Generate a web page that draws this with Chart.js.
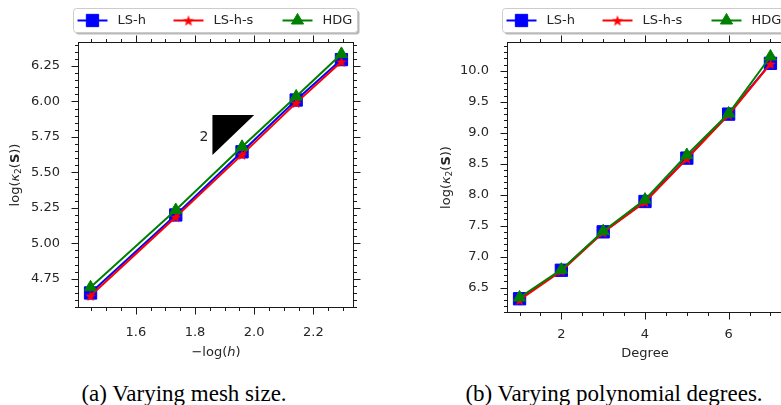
<!DOCTYPE html>
<html>
<head>
<meta charset="utf-8">
<script src="https://cdn.jsdelivr.net/npm/chart.js@4.4.1/dist/chart.umd.min.js"></script>
<style>
  html, body { margin: 0; padding: 0; background: #fff; overflow: hidden; }
  #fig { width: 781px; height: 405px; overflow: hidden; position: relative; }
  canvas { position: absolute; top: 0; }
  #meshChart { left: 0; }
  #degChart { left: 390px; }
  .caption { position: absolute; top: 382px; font-family: "Liberation Serif", serif; font-size: 23px;
             line-height: 23px; text-align: center; color: #000; white-space: nowrap; }
</style>
</head>
<body>
<div id="fig">
<canvas id="meshChart" width="390" height="370"></canvas>
<canvas id="degChart" width="400" height="370"></canvas>
<div class="caption" style="left:0;width:368px">(a) Varying mesh size.</div>
<div class="caption" style="left:414px;width:400px">(b) Varying polynomial degrees.</div>
</div>
<script>
//      (a) varying mesh size
const meshX    = [1.447, 1.735, 1.959, 2.142, 2.295];
const meshLSh  = [4.65, 5.20, 5.645, 6.01, 6.295];
const meshLShs = [4.63, 5.185, 5.625, 5.99, 6.28];
const meshHDG  = [4.69, 5.235, 5.68, 6.035, 6.335];
const meshXTicks  = [1.6, 1.8, 2.0, 2.2];
const meshXLabels = ['1.6', '1.8', '2.0', '2.2'];
const meshYTicks  = [4.75, 5.00, 5.25, 5.50, 5.75, 6.00, 6.25];
const meshYLabels = ['4.75', '5.00', '5.25', '5.50', '5.75', '6.00', '6.25'];
// slope triangle (data coords) and its label
const slopeTriX = [1.859, 1.859, 2.0];
const slopeTriY = [5.623, 5.905, 5.905];
const slopeText = '2';
const slopeTextAt = [1.8305, 5.75];

//      (b) varying polynomial degree
const degX    = [1, 2, 3, 4, 5, 6, 7];
const degLSh  = [6.32, 6.78, 7.40, 7.89, 8.59, 9.30, 10.12];
const degLShs = [6.30, 6.77, 7.39, 7.88, 8.58, 9.29, 10.11];
const degHDG  = [6.34, 6.79, 7.41, 7.92, 8.64, 9.31, 10.23];
const degXTicks  = [2, 4, 6];
const degXLabels = ['2', '4', '6'];
const degYTicks  = [6.5, 7.0, 7.5, 8.0, 8.5, 9.0, 9.5, 10.0];
const degYLabels = ['6.5', '7.0', '7.5', '8.0', '8.5', '9.0', '9.5', '10.0'];

const seriesNames = ['LS-h', 'LS-h-s', 'HDG'];

// filled 5 point star, like matplotlib '*'
function starMarker(color, r) {
    const c = document.createElement('canvas');
    const s = Math.ceil(r * 2) + 2;
    c.width = s; c.height = s;
    const g = c.getContext('2d');
    g.fillStyle = color;
    g.beginPath();
    for (let i = 0; i < 10; i++) {
        const rr = i % 2 ? r * 0.42 : r;
        const a = -Math.PI / 2 + i * Math.PI / 5;
        g.lineTo(s / 2 + rr * Math.cos(a), s / 2 + 0.6 + rr * Math.sin(a));
    }
    g.closePath();
    g.fill();
    return c;
}

const seriesStyle = [
    { color: '#0000ff', pointStyle: 'rect', radius: 8.7, order: 3 },
    { color: '#ff0000', pointStyle: starMarker('#ff0000', 5.8), radius: 6, order: 2 },
    { color: '#008000', pointStyle: 'triangle', radius: 7, order: 1 }
];

const TICK_FONT = { family: 'DejaVu Sans', size: 13 };
const TEXT_COL = '#262626';

function lineSets(xs, series) {
    return series.map((ys, i) => {
        const st = seriesStyle[i];
        return {
            label: seriesNames[i],
            data: xs.map((x, j) => ({ x: x, y: ys[j] })),
            borderColor: st.color, backgroundColor: st.color, borderWidth: 2,
            pointStyle: st.pointStyle, pointRadius: st.radius,
            pointBorderWidth: 1, pointBorderColor: st.color, pointBackgroundColor: st.color,
            order: st.order, tension: 0, fill: false, clip: false
        };
    });
}

//      draw a row of text pieces with different fonts (for math-ish titles)
function drawRich(ctx, parts, cx, cy, rotate) {
    ctx.save();
    ctx.translate(cx, cy);
    if (rotate) ctx.rotate(-Math.PI / 2);
    ctx.textBaseline = 'alphabetic';
    ctx.fillStyle = TEXT_COL;
    let w = 0;
    parts.forEach(p => { ctx.font = p.font; w += ctx.measureText(p.t).width; });
    let x = -w / 2;
    parts.forEach(p => {
        ctx.font = p.font;
        ctx.fillText(p.t, x, 4.5 + (p.dy || 0));
        x += ctx.measureText(p.t).width;
    });
    ctx.restore();
}

const yTitleParts = [
    { t: 'log(', font: '13px "DejaVu Sans"' },
    { t: 'κ', font: 'italic 13px "DejaVu Sans"' },
    { t: '2', font: '9px "DejaVu Sans"', dy: 2.5 },
    { t: '(', font: '13px "DejaVu Sans"' },
    { t: 'S', font: 'bold 13px "DejaVu Sans"' },
    { t: '))', font: '13px "DejaVu Sans"' }
];

// frame, outward ticks on all 4 sides, legend box, titles
const decoPlugin = {
    id: 'deco',
    afterDraw(chart, args, o) {
        const { ctx, chartArea: a, scales: { x, y } } = chart;
        ctx.save();
        ctx.strokeStyle = '#1a1a1a';
        ctx.lineWidth = 1;
        const seg = (x1, y1, x2, y2) => { ctx.beginPath(); ctx.moveTo(x1, y1); ctx.lineTo(x2, y2); ctx.stroke(); };
        const L = Math.round(a.left) + 0.5, R = Math.round(a.right) - 0.5;
        const T = Math.round(a.top) + 0.5, B = Math.round(a.bottom) - 0.5;
        ctx.strokeRect(L, T, R - L, B - T);
        const xt = (v, len) => { const p = Math.round(x.getPixelForValue(v)) + 0.5; seg(p, B, p, B + len); seg(p, T, p, T - len); };
        const yt = (v, len) => { const p = Math.round(y.getPixelForValue(v)) + 0.5; seg(L, p, L - len, p); seg(R, p, R + len, p); };
        for (let v = Math.ceil(x.min / o.xMinor) * o.xMinor; v <= x.max; v += o.xMinor) xt(v, 3.5);
        for (let v = Math.ceil(y.min / o.yMinor) * o.yMinor; v <= y.max; v += o.yMinor) yt(v, 3.5);
        o.xMajor.forEach(v => xt(v, 7));
        o.yMajor.forEach(v => yt(v, 7));

        // legend
        const bx = a.left - 4.5, by = 8.5, bw = 284, bh = 24;
        ctx.fillStyle = 'rgba(0,0,0,0.28)';
        ctx.beginPath(); ctx.roundRect(bx + 2, by + 2, bw, bh, 3); ctx.fill();
        ctx.fillStyle = '#fff';
        ctx.strokeStyle = '#cccccc';
        ctx.beginPath(); ctx.roundRect(bx, by, bw, bh, 3); ctx.fill(); ctx.stroke();
        const hx = [4, 100, 209], tx = [44, 140, 249], cy = by + 12;
        chart.data.datasets.slice(0, 3).forEach((ds, i) => {
            ctx.strokeStyle = ds.borderColor; ctx.fillStyle = ds.borderColor; ctx.lineWidth = 2;
            seg(bx + hx[i], cy, bx + hx[i] + 30, cy);
            ctx.lineWidth = 1;
            Chart.helpers.drawPoint(ctx, { pointStyle: ds.pointStyle, radius: ds.pointRadius, borderWidth: 1, rotation: 0 }, bx + hx[i] + 15, cy);
            ctx.fillStyle = TEXT_COL;
            ctx.font = '13px "DejaVu Sans"';
            ctx.textBaseline = 'middle';
            ctx.fillText(ds.label, bx + tx[i], cy + 0.5);
        });

        // axis titles
        drawRich(ctx, o.xTitle, (a.left + a.right) / 2, o.xTitleY, false);
        drawRich(ctx, yTitleParts, o.yTitleX, (a.top + a.bottom) / 2, true);

        if (o.note) {
            ctx.fillStyle = TEXT_COL;
            ctx.font = '14px "DejaVu Sans"';
            ctx.textAlign = 'center';
            ctx.textBaseline = 'middle';
            ctx.fillText(o.note.text, x.getPixelForValue(o.note.at[0]), y.getPixelForValue(o.note.at[1]));
        }
        ctx.restore();
    }
};

function axis(pos, min, max, ticks, labels, fitSize, pad) {
    return {
        type: 'linear', position: pos, min: min, max: max,
        afterBuildTicks: s => { s.ticks = ticks.map(v => ({ value: v })); },
        afterFit: s => { if (pos === 'left') s.width = fitSize; else s.height = fitSize; },
        grid: { display: false, drawTicks: false },
        border: { display: false },
        ticks: {
            font: TICK_FONT, color: TEXT_COL, padding: pad, autoSkip: false, maxRotation: 0,
            callback: (v, i) => labels[i]
        }
    };
}

function makeChart(id, cfg) {
    return new Chart(document.getElementById(id), {
        type: 'line',
        data: { datasets: cfg.datasets },
        options: {
            responsive: false, animation: false, events: [],
            layout: { padding: cfg.padding, autoPadding: false },
            scales: { x: cfg.x, y: cfg.y },
            plugins: { legend: { display: false }, tooltip: { enabled: false }, deco: cfg.deco }
        },
        plugins: [decoPlugin]
    });
}

const meshSets = lineSets(meshX, [meshLSh, meshLShs, meshHDG]);
meshSets.push({
    label: 'slope',
    data: slopeTriX.map((x, i) => ({ x: x, y: slopeTriY[i] })),
    borderWidth: 0, pointRadius: 0, backgroundColor: '#000', fill: 'shape', order: 0
});

makeChart('meshChart', {
    datasets: meshSets,
    padding: { left: 0, top: 42, right: 36, bottom: 0 },
    x: axis('bottom', 1.4046, 2.3374, meshXTicks, meshXLabels, 62, 17),
    y: axis('left', 4.544, 6.419, meshYTicks, meshYLabels, 78, 18),
    deco: {
        xMinor: 0.05, yMinor: 0.05, xMajor: meshXTicks, yMajor: meshYTicks,
        xTitle: [{ t: '−log(', font: '13px "DejaVu Sans"' }, { t: 'h', font: 'italic 13px "DejaVu Sans"' }, { t: ')', font: '13px "DejaVu Sans"' }],
        xTitleY: 351, yTitleX: 14,
        note: { text: slopeText, at: slopeTextAt }
    }
});

makeChart('degChart', {
    datasets: lineSets(degX, [degLSh, degLShs, degHDG]),
    padding: { left: 0, top: 42, right: 7, bottom: 0 },
    x: axis('bottom', 0.7, 7.3, degXTicks, degXLabels, 57, 14),
    y: axis('left', 6.09, 10.464, degYTicks, degYLabels, 117, 18),
    deco: {
        xMinor: 0.5, yMinor: 0.1, xMajor: degXTicks, yMajor: degYTicks,
        xTitle: [{ t: 'Degree', font: '13px "DejaVu Sans"' }],
        xTitleY: 352, yTitleX: 55
    }
});
</script>
</body>
</html>
